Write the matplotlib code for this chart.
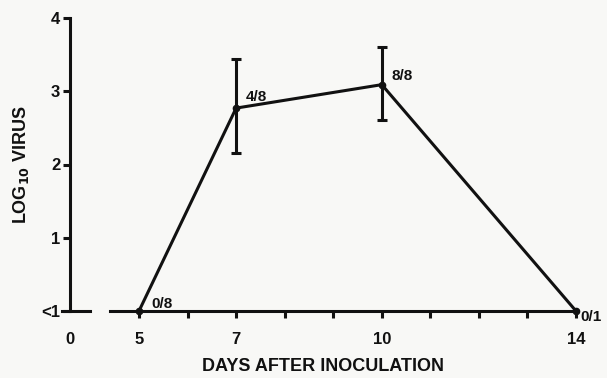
import numpy as np
import matplotlib.pyplot as plt

# virus titers by day after inoculation (log10), 0 = below detection (<1)
days = [5, 7, 10, 14]
log_virus = [0.0, 2.77, 3.09, 0.0]
err_low = [None, 2.16, 2.61, None]
err_high = [None, 3.44, 3.60, None]
positive = ['0/8', '4/8', '8/8', '0/1']

ytick_vals = [0, 1, 2, 3, 4]
ytick_labels = ['<1', '1', '2', '3', '4']
xtick_labels = {5: '5', 7: '7', 10: '10', 14: '14'}

plt.rcParams['font.family'] = ['Liberation Sans', 'DejaVu Sans']
plt.rcParams['font.weight'] = 'bold'
plt.rcParams['mathtext.default'] = 'bf'

ink = '#111111'
bg = '#f8f8f6'
lw = 2.2

fig = plt.figure(figsize=(6.07, 3.78), dpi=100, facecolor=bg)
ax = fig.add_axes([70 / 607, 67 / 378, 506 / 607, 293 / 378])
ax.set_facecolor(bg)

# broken x axis: day 0 sits on the y axis, the scale restarts near day 5
x0 = 5 - 69 / 48.56
ax.set_xlim(x0, 14)
ax.set_ylim(0, 4)

for s in ['top', 'right', 'bottom']:
    ax.spines[s].set_visible(False)
ax.spines['left'].set_linewidth(lw)
ax.spines['left'].set_color(ink)

gap_a = x0 + 20 / 48.56
gap_b = x0 + 40 / 48.56
ax.plot([x0 - 8 / 48.56, gap_a], [0, 0], color=ink, lw=lw, clip_on=False)
ax.plot([gap_b, 14], [0, 0], color=ink, lw=lw, clip_on=False)

# the curve
ax.plot(days, log_virus, color=ink, lw=lw, marker='o', ms=4.5, clip_on=False, zorder=3)
for d, v, lo, hi in zip(days, log_virus, err_low, err_high):
    if lo is None:
        continue
    ax.errorbar([d], [v], yerr=[[v - lo], [hi - v]], fmt='none', ecolor=ink,
                elinewidth=lw, capsize=3.5, capthick=lw)

# fraction of animals positive
offsets = [(9, 5), (7, 8), (7, 6), (3, -4)]
for d, v, txt, off in zip(days, log_virus, positive, offsets):
    ax.annotate(txt, (d, v), xytext=off, textcoords='offset points',
                fontsize=11, fontweight='bold', color=ink,
                ha='left', va='center', annotation_clip=False)

ax.set_yticks(ytick_vals, ytick_labels)
ax.tick_params(axis='y', direction='out', length=5, width=lw, color=ink,
               labelsize=12, labelcolor=ink, pad=2)

ax.set_xticks([x0] + list(range(5, 15)))
ax.set_xticklabels(['0'] + [xtick_labels.get(d, '') for d in range(5, 15)])
ax.tick_params(axis='x', direction='out', length=5, width=lw, color=ink,
               labelsize=12, labelcolor=ink, pad=10)
ax.get_xaxis().get_major_ticks()[0].tick1line.set_visible(False)

ax.set_xlabel('DAYS AFTER INOCULATION', fontsize=13, fontweight='bold',
              color=ink, labelpad=8)
ax.set_ylabel(r'LOG$_{10}$ VIRUS', fontsize=13, fontweight='bold', color=ink)
ax.yaxis.set_label_coords(-0.077, 0.5)

fig.savefig('out.png', dpi=100, facecolor=bg)
